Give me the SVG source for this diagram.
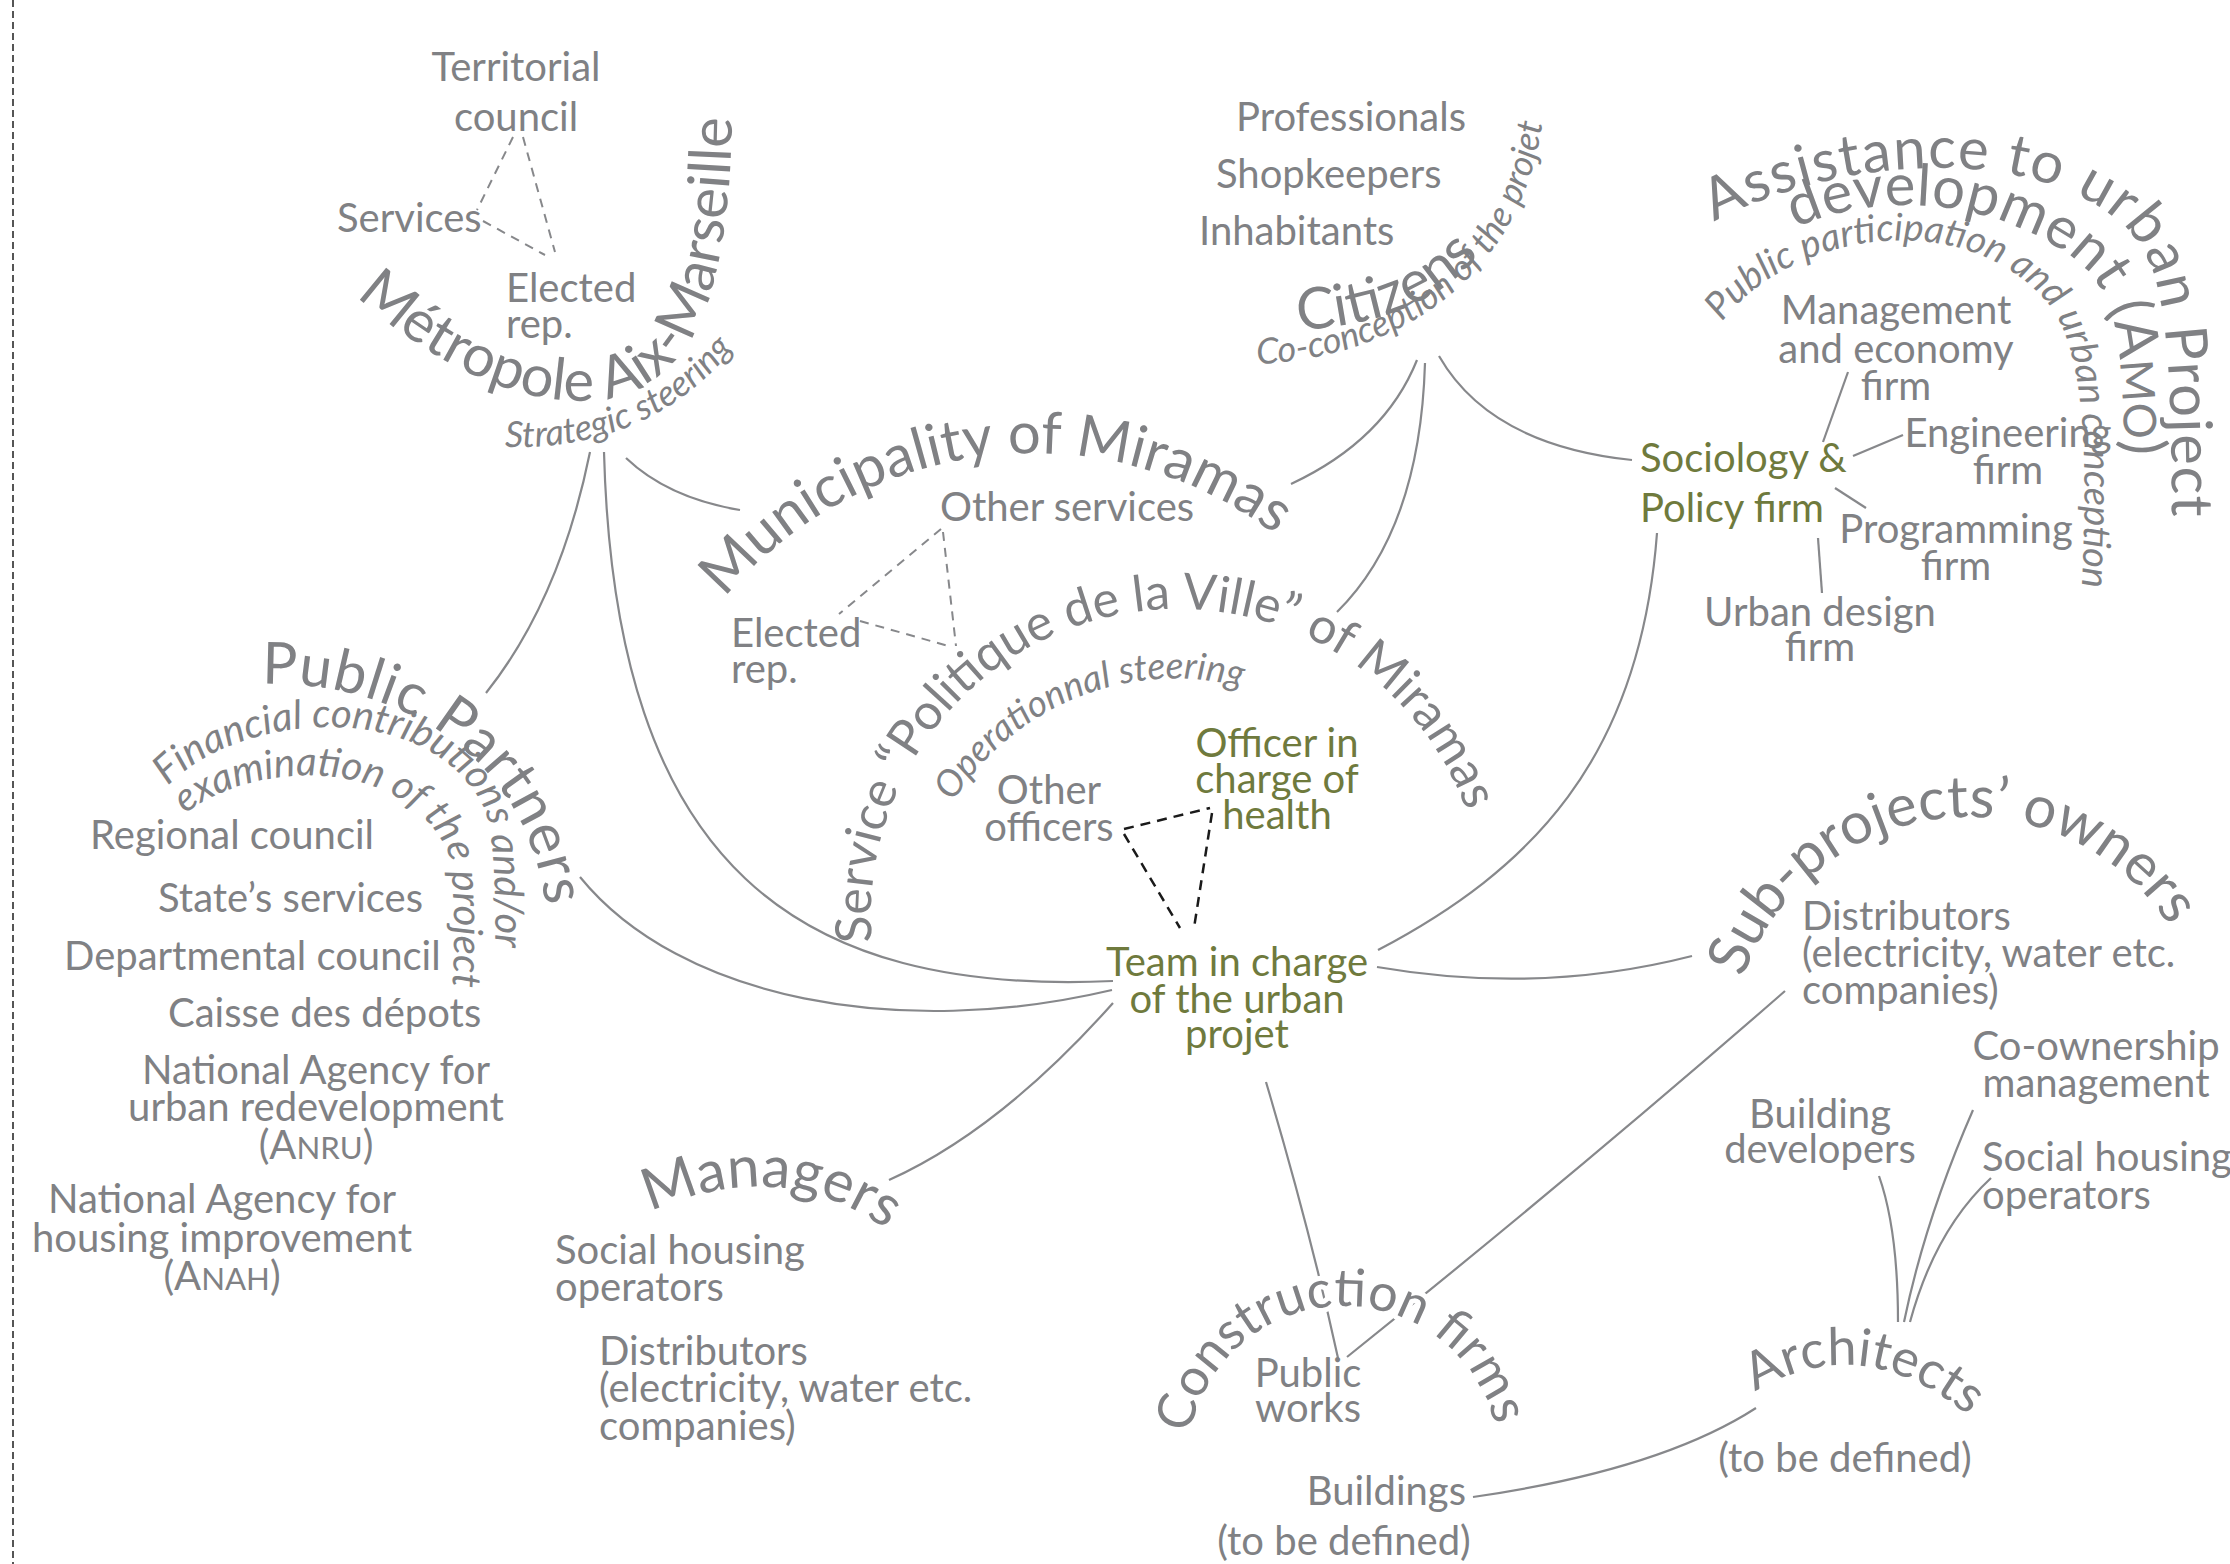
<svg xmlns="http://www.w3.org/2000/svg" width="2230" height="1564" viewBox="0 0 2230 1564">
<style>
.t{font-family:Lato,"Open Sans","DejaVu Sans",sans-serif;fill:#808184;font-size:40px}
.gr{fill:#6f7a3d}
.i{font-style:italic;font-size:36px}
.i2{font-size:40px}
.big{font-size:58px}
.mid{font-size:52px}
.c{text-anchor:middle}
.conn{fill:none;stroke:#87888b;stroke-width:2.2}
.dash{fill:none;stroke:#87888b;stroke-width:2;stroke-dasharray:9 7}
.bdash{fill:none;stroke:#1a1a1a;stroke-width:2.5;stroke-dasharray:10 7}
.halo{stroke:#fff;stroke-width:10px;paint-order:stroke;stroke-linejoin:round}
.sc{font-size:0.78em}
</style>
<defs>
<path id="p-metro" d="M 356 296 C 450 380, 555 420, 630 392 C 695 365, 732 290, 732 100"/>
<path id="p-strat" d="M 505 447 Q 690 452 774 284"/>
<path id="p-muni" d="M 716 609 A 401 401 0 0 1 1300 555"/>
<path id="p-serv" d="M 872 942 A 306 306 0 0 1 1484 890"/>
<path id="p-oper" d="M 953 802 A 262 262 0 0 1 1300 710"/>
<path id="p-cit" d="M 1298 330 C 1400 325, 1490 285, 1515 180"/>
<path id="p-citsub" d="M 1257 364 C 1380 360, 1530 290, 1545 100"/>
<path id="p-amo1" d="M 1714 222 C 1850 150, 2045 148, 2126 228 C 2166 268, 2172 330, 2172 560"/>
<path id="p-amo2" d="M 1795 228 C 1880 190, 1995 198, 2078 262 C 2118 296, 2125 340, 2125 530"/>
<path id="p-amo3" d="M 1722 322 C 1790 232, 1960 205, 2045 300 C 2085 345, 2090 450, 2080 620"/>
<path id="p-pp" d="M 262 684 C 400 680, 545 760, 548 940"/>
<path id="p-fin" d="M 168 786 C 238 712, 430 695, 485 810 C 495 840, 496 900, 495 980"/>
<path id="p-exam" d="M 185 814 C 250 762, 400 752, 448 852 C 455 880, 455 935, 452 1000"/>
<path id="p-mgr" d="M 650 1212 Q 790 1150 900 1240"/>
<path id="p-sub" d="M 1743 978 A 239 239 0 0 1 2175 935"/>
<path id="p-cons" d="M 1190 1434 A 156 156 0 0 1 1495 1425"/>
<path id="p-arch" d="M 1755 1392 Q 1875 1320 1995 1440"/>
</defs>
<rect width="2230" height="1564" fill="#fff"/>
<line x1="13" y1="0" x2="13" y2="1564" stroke="#555" stroke-width="2" stroke-dasharray="7 4"/>

<g id="connectors">
<path class="conn" d="M 626 458 Q 668 498 740 510"/>
<path class="conn" d="M 590 452 Q 560 600 486 693"/>
<path class="conn" d="M 604 452 C 615 870, 800 995, 1113 981"/>
<path class="conn" d="M 580 877 C 680 1000, 900 1040, 1112 990"/>
<path class="conn" d="M 1113 1003 Q 1000 1130 889 1180"/>
<path class="conn" d="M 1266 1082 Q 1310 1230 1338 1358"/>
<path class="conn" d="M 1785 991 Q 1580 1170 1347 1357"/>
<path class="conn" d="M 1473 1497 Q 1660 1470 1756 1408"/>
<path class="conn" d="M 1898 1322 Q 1898 1230 1879 1176"/>
<path class="conn" d="M 1904 1322 Q 1925 1220 1973 1110"/>
<path class="conn" d="M 1910 1322 Q 1935 1230 1991 1178"/>
<path class="conn" d="M 1377 967 Q 1540 995 1692 956"/>
<path class="conn" d="M 1657 533 C 1640 760, 1530 870, 1378 950"/>
<path class="conn" d="M 1291 484 Q 1385 440 1417 360"/>
<path class="conn" d="M 1425 363 Q 1420 530 1337 612"/>
<path class="conn" d="M 1439 356 Q 1490 445 1632 460"/>
<path class="conn" d="M 1848 372 L 1823 442"/>
<path class="conn" d="M 1903 435 L 1853 456"/>
<path class="conn" d="M 1835 488 L 1866 508"/>
<path class="conn" d="M 1818 538 L 1822 593"/>
<path class="dash" d="M 513 137 L 477 210"/>
<path class="dash" d="M 523 137 L 555 252"/>
<path class="dash" d="M 483 221 L 545 255"/>
<path class="dash" d="M 941 529 L 839 614"/>
<path class="dash" d="M 860 621 L 952 647"/>
<path class="dash" d="M 943 532 L 956 646"/>
<path class="bdash" d="M 1124 829 L 1210 808"/>
<path class="bdash" d="M 1124 834 L 1180 928"/>
<path class="bdash" d="M 1212 813 L 1194 928"/>
</g>

<g id="metropole">
<text class="t c" x="516" y="81">Territorial</text>
<text class="t c" x="516" y="131">council</text>
<text class="t" x="337" y="232">Services</text>
<text class="t" x="506" y="302">Elected</text>
<text class="t" x="506" y="338">rep.</text>
<text class="t big"><textPath href="#p-metro">Métropole Aix-Marseille</textPath></text>
<text class="t i"><textPath href="#p-strat">Strategic steering</textPath></text>
</g>

<g id="municipality">
<text class="t big"><textPath href="#p-muni" startOffset="14">Municipality of Miramas</textPath></text>
<text class="t" x="940" y="521">Other services</text>
<text class="t" x="731" y="647">Elected</text>
<text class="t" x="731" y="683">rep.</text>
</g>

<g id="service-politique">
<text class="t" style="font-size:50px"><textPath href="#p-serv">Service “Politique de la Ville” of Miramas</textPath></text>
<text class="t i" style="font-size:37px"><textPath href="#p-oper">Operationnal steering</textPath></text>
<text class="t c" x="1049" y="804">Other</text>
<text class="t c" x="1049" y="841">officers</text>
</g>

<g id="officer-health">
<text class="t gr c" x="1277" y="757">Officer in</text>
<text class="t gr c" x="1277" y="793">charge of</text>
<text class="t gr c" x="1277" y="829">health</text>
</g>

<g id="team">
<text class="t gr c" x="1237" y="976">Team in charge</text>
<text class="t gr c" x="1237" y="1013">of the urban</text>
<text class="t gr c" x="1237" y="1048">projet</text>
</g>

<g id="citizens">
<text class="t" x="1236" y="131">Professionals</text>
<text class="t" x="1216" y="188">Shopkeepers</text>
<text class="t" x="1199" y="245">Inhabitants</text>
<text class="t big"><textPath href="#p-cit">Citizens</textPath></text>
<text class="t i"><textPath href="#p-citsub">Co-conception of the projet</textPath></text>
</g>

<g id="amo">
<text class="t big" style="letter-spacing:1.5px"><textPath href="#p-amo1">Assistance to urban Project</textPath></text>
<text class="t big" style="letter-spacing:0.5px"><textPath href="#p-amo2">development (A<tspan class="sc">MO</tspan>)</textPath></text>
<text class="t i" style="font-size:38px"><textPath href="#p-amo3">Public participation and urban conception</textPath></text>
<text class="t c" x="1896" y="324">Management</text>
<text class="t c" x="1896" y="363">and economy</text>
<text class="t c" x="1896" y="400">firm</text>
<text class="t c" x="2008" y="447">Engineering</text>
<text class="t c" x="2008" y="484">firm</text>
<text class="t c" x="1956" y="543">Programming</text>
<text class="t c" x="1956" y="580">firm</text>
<text class="t c" x="1820" y="626">Urban design</text>
<text class="t c" x="1820" y="661">firm</text>
</g>

<g id="sociology">
<text class="t gr" x="1640" y="472">Sociology &amp;</text>
<text class="t gr" x="1640" y="522">Policy firm</text>
</g>

<g id="public-partners">
<text class="t big" style="letter-spacing:1px"><textPath href="#p-pp">Public Partners</textPath></text>
<text class="t i i2"><textPath href="#p-fin">Financial contributions and/or</textPath></text>
<text class="t i i2"><textPath href="#p-exam">examination of the project</textPath></text>
<text class="t" x="90" y="849">Regional council</text>
<text class="t" x="158" y="912">State’s services</text>
<text class="t" x="64" y="970">Departmental council</text>
<text class="t" x="168" y="1027">Caisse des dépots</text>
<text class="t c" x="316" y="1084">National Agency for</text>
<text class="t c" x="316" y="1121">urban redevelopment</text>
<text class="t c" x="316" y="1159">(A<tspan class="sc">NRU</tspan>)</text>
<text class="t c" x="222" y="1213">National Agency for</text>
<text class="t c" x="222" y="1252">housing improvement</text>
<text class="t c" x="222" y="1290">(A<tspan class="sc">NAH</tspan>)</text>
</g>

<g id="managers">
<text class="t big"><textPath href="#p-mgr">Managers</textPath></text>
<text class="t" x="555" y="1264">Social housing</text>
<text class="t" x="555" y="1301">operators</text>
<text class="t" x="599" y="1365">Distributors</text>
<text class="t" x="599" y="1402">(electricity, water etc.</text>
<text class="t" x="599" y="1440">companies)</text>
</g>

<g id="sub-projects">
<text class="t big"><textPath href="#p-sub">Sub-projects’ owners</textPath></text>
<text class="t" x="1802" y="930">Distributors</text>
<text class="t" x="1802" y="967">(electricity, water etc.</text>
<text class="t" x="1802" y="1004">companies)</text>
<text class="t c" x="2096" y="1060">Co-ownership</text>
<text class="t c" x="2096" y="1097">management</text>
<text class="t c" x="1820" y="1128">Building</text>
<text class="t c" x="1820" y="1163">developers</text>
<text class="t" x="1982" y="1171">Social housing</text>
<text class="t" x="1982" y="1209">operators</text>
</g>

<g id="construction">
<text class="t mid halo"><textPath href="#p-cons">Construction firms</textPath></text>
<text class="t c" x="1308" y="1387">Public</text>
<text class="t c" x="1308" y="1422">works</text>
<text class="t" x="1466" y="1505" text-anchor="end">Buildings</text>
<text class="t c" x="1344" y="1555">(to be defined)</text>
</g>

<g id="architects">
<text class="t mid"><textPath href="#p-arch">Architects</textPath></text>
<text class="t c" x="1845" y="1472">(to be defined)</text>
</g>
</svg>
